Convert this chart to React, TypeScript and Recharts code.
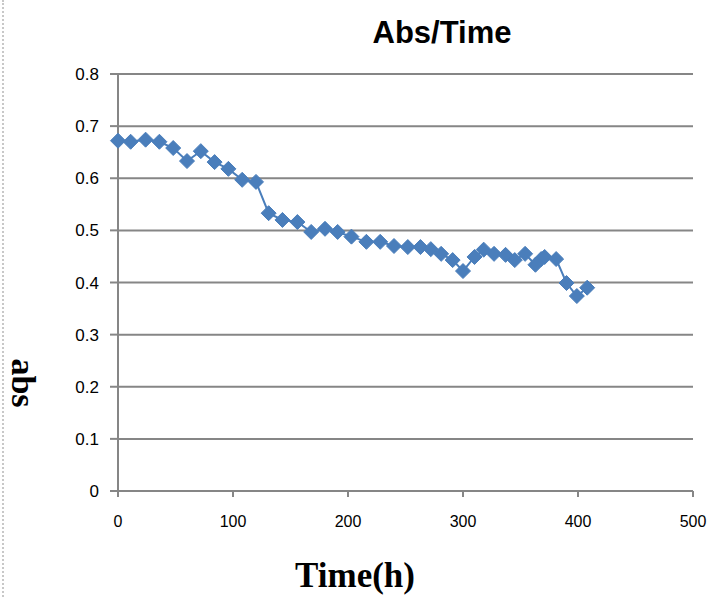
import { ScatterChart, Scatter, XAxis, YAxis, CartesianGrid } from "recharts";

const times = [
  0, 11, 24, 36, 48, 60, 72, 84, 96, 108, 120, 131, 143, 156, 168, 180, 191, 203, 216, 228,
  240, 252, 263, 272, 281, 291, 300, 310, 318, 327, 337, 345, 354, 363, 368, 371, 381, 390, 399, 408,
];
const absValues = [
  0.672, 0.67, 0.674, 0.67, 0.658, 0.633, 0.652, 0.631, 0.618, 0.597, 0.593, 0.533, 0.52, 0.516,
  0.497, 0.503, 0.497, 0.488, 0.478, 0.478, 0.47, 0.468, 0.468, 0.464, 0.455, 0.443, 0.422, 0.449,
  0.463, 0.455, 0.453, 0.443, 0.455, 0.434, 0.445, 0.449, 0.445, 0.399, 0.374, 0.39,
];
const xTicks = [0, 100, 200, 300, 400, 500];
const yTicks = [0, 0.1, 0.2, 0.3, 0.4, 0.5, 0.6, 0.7, 0.8];

const data = times.map((t, i) => ({ time: t, abs: absValues[i] }));

const blue = "#4A7EBB";
const gray = "#868686";

const Diamond = (props: any) => {
  const { cx, cy } = props;
  if (cx == null || cy == null) return null;
  const r = 7.5;
  return (
    <path
      d={`M${cx},${cy - r}L${cx + r},${cy}L${cx},${cy + r}L${cx - r},${cy}Z`}
      fill={blue}
      stroke={blue}
      strokeWidth={1}
    />
  );
};

export default function App() {
  return (
    <div style={{ position: "absolute", left: 0, top: 0, width: 710, height: 597, background: "#fff" }}>
      <div
        style={{
          position: "absolute",
          left: 2,
          top: 0,
          height: 597,
          borderLeft: "2px dotted #c8c8c8",
        }}
      />
      <ScatterChart width={710} height={597} margin={{ top: 74, right: 17, bottom: 66, left: 58 }}>
        <CartesianGrid vertical={false} stroke={gray} strokeWidth={2} />
        <XAxis
          type="number"
          dataKey="time"
          domain={[0, 500]}
          ticks={xTicks}
          interval={0}
          height={40}
          stroke={gray}
          strokeWidth={2}
          tickSize={6}
          tickMargin={19}
          tick={{ fill: "#000", fontSize: 16, fontFamily: "Liberation Sans Narrow, Arial, sans-serif" }}
        />
        <YAxis
          type="number"
          dataKey="abs"
          domain={[0, 0.8]}
          ticks={yTicks}
          interval={0}
          width={60}
          stroke={gray}
          strokeWidth={2}
          tickSize={8}
          tickMargin={11}
          tickFormatter={(v: number) => String(Number(v.toFixed(1)))}
          tick={{ fill: "#000", fontSize: 17, fontFamily: "Liberation Sans, Arial, sans-serif" }}
        />
        <Scatter
          data={data}
          line={{ stroke: blue, strokeWidth: 2 }}
          lineType="joint"
          shape={<Diamond />}
          isAnimationActive={false}
        />
      </ScatterChart>
      <div
        style={{
          position: "absolute",
          left: 442,
          top: 15,
          transform: "translateX(-50%)",
          fontFamily: "Liberation Sans, Arial, sans-serif",
          fontWeight: "bold",
          fontSize: 31,
          whiteSpace: "nowrap",
        }}
      >
        Abs/Time
      </div>
      <div
        style={{
          position: "absolute",
          left: 355,
          top: 556,
          transform: "translateX(-50%)",
          fontFamily: "Liberation Serif, 'Times New Roman', serif",
          fontWeight: "bold",
          fontSize: 35,
          whiteSpace: "nowrap",
        }}
      >
        Time(h)
      </div>
      <div
        style={{
          position: "absolute",
          left: 23,
          top: 383,
          transform: "translate(-50%, -50%) rotate(90deg)",
          fontFamily: "Liberation Serif, 'Times New Roman', serif",
          fontWeight: "bold",
          fontSize: 34,
          whiteSpace: "nowrap",
        }}
      >
        abs
      </div>
    </div>
  );
}
